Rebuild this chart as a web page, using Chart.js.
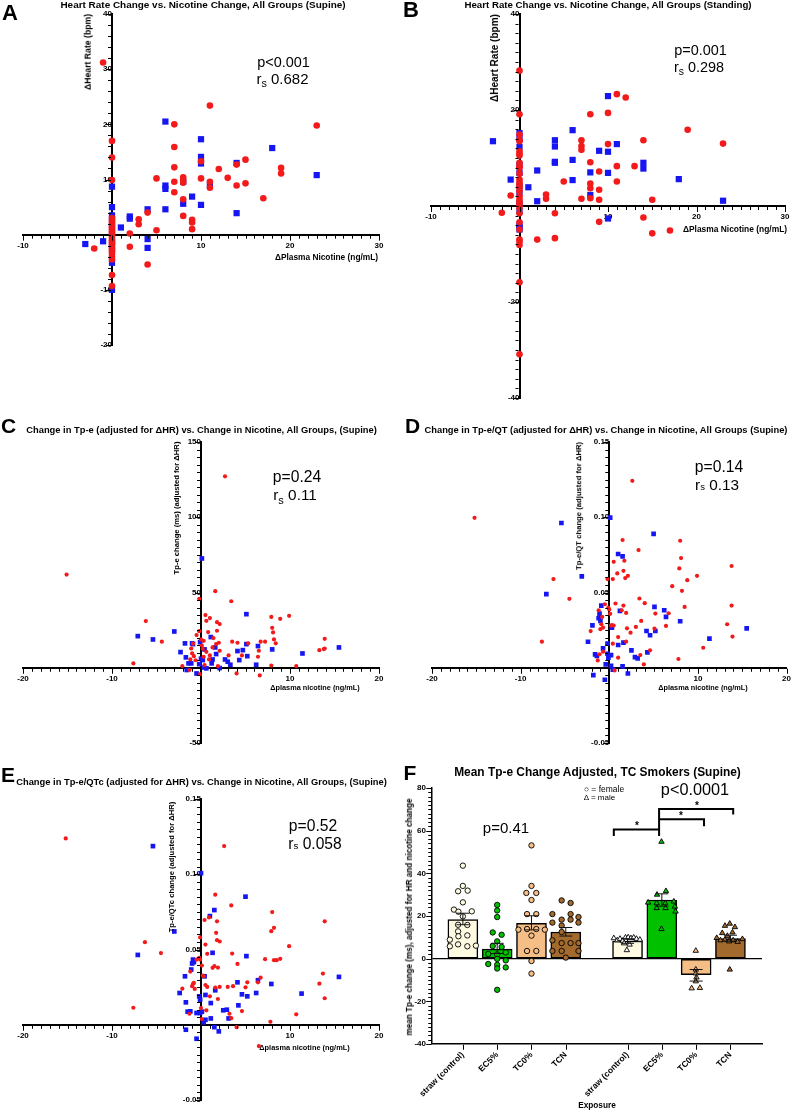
<!DOCTYPE html>
<html>
<head>
<meta charset="utf-8">
<title>Heart rate and Tp-e change vs. nicotine change</title>
<script src="https://cdn.jsdelivr.net/npm/chart.js@4.4.1/dist/chart.umd.min.js"></script>
<style>
  html, body { margin: 0; padding: 0; background: #fff; }
  #fig { position: relative; width: 792px; height: 1111px; overflow: hidden; font-family: "Liberation Sans", Arial, sans-serif; color: #000; }
  #fig canvas { position: absolute; }
  .txt { position: absolute; white-space: nowrap; line-height: 1; }
  .sb { font-size: 0.72em; position: relative; top: 0.32em; }
  .sm { font-size: 0.62em; }
</style>
</head>
<body>
<div id="fig">
  <canvas id="chartA" width="396" height="360" style="left:0;top:0"></canvas>
  <canvas id="chartB" width="396" height="410" style="left:396px;top:0"></canvas>
  <canvas id="chartC" width="396" height="360" style="left:0;top:400px"></canvas>
  <canvas id="chartD" width="396" height="350" style="left:396px;top:410px"></canvas>
  <canvas id="chartE" width="396" height="351" style="left:0;top:760px"></canvas>
  <canvas id="chartF" width="396" height="371" style="left:396px;top:740px"></canvas>
</div>
<script>
// A: heart rate change vs nicotine change, supine  [x = Δnicotine, y = ΔHR]
const hrSupineRed = [[-1,31.2],[0,17],[0,14],[0,9.9],[0,3.0],[0,2.6],[0,2.2],[0,1.8],[0,1.4],[0,1.0],[0,0.6],[0,0.2],[0,-0.2],[0,-0.6],[0,-1.0],[0,-1.4],[0,-1.8],[0,-2.2],[0,-2.6],[0,-3.0],[0,-3.5],[0,-4.0],[0,-4.5],[0,-7.3],[0,-9.3],
  [-2,-2.5],[2,0.2],[2,-2.2],[3,2.8],[3,1.9],[4,4.0],[4,-5.4],[5,10.2],[5,0.8],[7,20],[7,15.9],[7,12.2],[7,9.6],[7,7.7],[8,10.4],[8,9.9],[8,9.4],[8,6.4],[8,3.4],
  [9,2.7],[9,2.2],[9,1.0],[10,13.3],[10,10.2],[11,23.4],[11,9.6],[11,8.5],[12,11.9],[13,10.3],[14,12.7],[14,8.9],[15,13.6],[15,9.3],[17,6.6],[19,12.1],[19,11.1],[23,19.8]];
const hrSupineBlue = [[0,8.7],[0,5.0],[0,3.5],[0,2.8],[0,1.5],[0,0.3],[0,-1.5],[0,-2.7],[0,-5.1],[0,-10],[-3,-1.7],[-1,-1.2],[1,1.3],[2,3.3],[2,2.9],[4,4.6],[4,-0.8],[4,-2.4],
  [6,20.5],[6,8.9],[6,8.3],[6,4.6],[8,9.6],[8,5.6],[9,6.9],[10,17.3],[10,14.1],[10,12.9],[10,5.4],[11,9.0],[14,13.0],[14,3.9],[18,15.7],[23,10.8]];

// B: heart rate change vs nicotine change, standing
const hrStandRed = [[-2,-1.4],[-1,2.2],[0,28.2],[0,19.1],[0,14.9],[0,13.8],[0,13.5],[0,11.4],[0,10.9],[0,10.5],[0,9.0],[0,8.3],[0,7.9],[0,6.7],[0,5.5],[0,4.9],[0,4.4],[0,3.8],[0,3.1],[0,2.0],[0,1.3],[0,0.8],[0,0.3],[0,-0.4],[0,-1.5],[0,-3.4],[0,-4.9],[0,-7.0],[0,-7.4],[0,-8.1],[0,-15.9],[0,-30.9],
  [2,-7.0],[3,2.4],[3,1.5],[4,-1.5],[4,-6.7],[5,5.1],[7,13.7],[7,12.5],[7,11.7],[7,1.5],[8,19.1],[8,9.1],[8,4.7],[8,3.7],[8,1.6],[9,7.2],[9,3.4],[9,1.3],[9,-3.3],
  [10,19.4],[10,12.9],[11,23.3],[11,8.3],[11,5.1],[12,22.6],[13,8.3],[14,13.7],[14,-2.4],[15,1.3],[15,-5.7],[17,-5.1],[19,15.9],[23,13.0]];
const hrStandBlue = [[-3,13.5],[-1,5.5],[0,15.2],[0,14.0],[0,12.3],[0,8.6],[0,6.9],[0,4.1],[0,2.7],[0,0.5],[0,-1.1],[0,-3.9],[0,-4.4],[0,-4.9],
  [1,3.9],[2,7.4],[2,1.0],[4,13.7],[4,12.4],[4,9.2],[4,9.0],[6,15.8],[6,9.6],[6,5.4],[8,7.0],[8,2.3],[9,11.5],[10,22.9],[10,11.3],[10,6.9],[10,-2.6],[11,12.9],[14,9.0],[14,7.8],[18,5.6],[23,1.1]];

// C: Tp-e change (ms, adjusted for ΔHR)
const tpeRed = [[-15.1,61.9],[-7.6,2.9],[-6.2,31.0],[-4.4,17.3],[-2.1,1.1],[-1.3,-1.5],[-1.2,5.5],[-1.1,12.8],[-1.0,9.5],[-0.9,16],[-0.8,7.7],[-0.6,5],[-0.5,21.7],[-0.2,24.3],[-0.2,45.8],[-0.1,-4.2],
  [0,18.8],[0.1,14.8],[0.2,12.6],[0.3,17.9],[0.3,7.3],[0.4,1.8],[0.5,35],[0.6,31.2],[0.6,10.6],[0.8,23.7],[0.9,5.5],[1.0,33],[1.0,8.2],[1.3,13.5],[1.4,19.7],[1.6,50.9],[1.7,15.7],[1.8,24.6],[1.8,30.3],[1.9,1.1],
  [2.0,16.6],[2.1,29.0],[2.1,11.3],[2.7,127.2],[3.1,8.2],[3.4,44.2],[3.5,17.3],[4.0,-3.8],[4.1,16.6],[4.6,8.2],[5.3,16.2],[6.6,-5.1],[6.4,7.3],[6.5,11.3],[6.7,17.3],[7.2,17.3],
  [7.9,33.8],[8.0,26.5],[8.1,23.5],[8.2,18.8],[8.4,16.2],[7.9,1.5],[8.9,32.5],[9.9,34.5],[10.7,1.1],[13.3,11.7],[13.8,12.4],[13.9,12.8],[13.9,19.2]];
const tpeBlue = [[-7.1,21.0],[-5.4,18.8],[-3.0,24.1],[-2.3,10.4],[-1.8,16.2],[-1.7,6.9],[-1.6,-1.5],[-1.4,2.9],[-1.1,2.9],[-1.0,16.2],[-0.9,15.7],[-0.5,-3.8],[-0.2,2.4],[-0.1,17],[0.0,6],[0.1,72.6],
  [0.2,5.1],[0.3,0.2],[0.4,12.2],[0.6,-0.4],[1.1,20.4],[1.2,2.9],[1.3,5.5],[1.6,13.5],[1.7,9.1],[2.1,-0.2],[2.7,5.5],[3.0,4.0],[3.3,2.0],[4.1,11.1],[4.3,5.1],[4.7,11.7],
  [5.1,35.6],[5.1,15.7],[5.2,7.7],[6.2,2.0],[6.4,14.4],[8.0,12.2],[11.4,9.5],[15.5,13.5]];

// D: Tp-e/QT change
const tpeQtRed = [[-15.2,0.0996],[-7.6,0.0173],[-6.3,0.0589],[-4.5,0.0458],[-2.1,0.0244],[-1.3,0.0049],[-1.2,0.0382],[-1.1,0.0089],[-1.0,0.0256],[-0.9,0.0289],[-0.8,0.0338],[-0.7,0.0267],[-0.7,0.0107],[-0.5,0.0422],
  [-0.2,0.0589],[-0.1,0.04],[0.0,0.0387],[0.1,0.0358],[0.2,0.028],[0.3,0.0284],[0.4,0.016],[0.4,0.0589],[0.5,0.0704],[0.5,0.028],[0.6,-0.0018],[0.7,0.0427],[0.9,0.0627],[1.0,0.0204],[1.0,0.0067],
  [1.4,0.0382],[1.5,0.0849],[1.6,0.0413],[1.6,0.0644],[1.7,0.0711],[1.8,0.0596],[1.9,0.0173],[1.9,0.0364],[2.0,0.0262],[2.1,0.0611],[2.4,0.0233],[2.6,0.1242],[3.0,0.0271],[3.3,0.0782],[3.4,0.046],
  [3.5,0.0084],[3.6,0.0311],[3.9,0.0022],[4.0,0.0429],[4.6,0.0116],[5.1,0.026],[5.2,0.036],[6.7,0.0362],[6.4,0.0278],[7.1,0.0542],[7.8,0.0058],[7.9,0.066],[8.0,0.0844],[8.1,0.0729],[8.2,0.0511],
  [8.5,0.0404],[8.8,0.0582],[9.9,0.0611],[10.6,0.0133],[13.3,0.0289],[13.8,0.0413],[13.8,0.0676],[13.9,0.0207]];
const tpeQtBlue = [[-7.1,0.0489],[-5.4,0.0962],[-3.1,0.0607],[-2.4,0.0173],[-1.9,0.0282],[-1.8,-0.0049],[-1.6,0.0089],[-1.4,0.0078],[-1.2,0.0329],[-1.1,0.036],[-1.0,0.0311],[-0.9,0.0413],
  [-0.7,0.0129],[-0.5,-0.008],[-0.4,0.0022],[-0.2,0.016],[-0.2,0.0093],[-0.1,0.0067],[0.1,0.0998],[0.2,0.0013],[0.2,0.0084],[0.3,0.0267],[0.4,-0.0013],[1.0,0.0756],[1.0,0.0151],[1.2,0.0378],
  [1.5,0.074],[1.5,0.0009],[1.6,0.0167],[2.1,-0.0038],[2.5,0.0116],[2.9,0.0071],[3.2,0.0062],[4.2,0.0244],[4.3,0.0102],[4.6,0.0216],[5.0,0.0889],[5.1,0.0404],[5.2,0.0244],[6.2,0.0382],
  [6.4,0.0338],[8.0,0.0309],[11.3,0.0193],[15.5,0.0262]];

// E: Tp-e/QTc change
const tpeQtcRed = [[-15.2,0.1238],[-7.6,0.0113],[-6.3,0.0549],[-4.5,0.0476],[-2.1,0.024],[-1.3,0.0073],[-1.2,0.0353],[-1.0,0.0256],[-0.9,0.0271],[-0.8,0.0278],[-0.7,0.0238],[-0.5,0.0433],
  [-0.2,0.0444],[-0.1,0.058],[-0.1,0.0433],[0.0,0.0111],[0.1,0.0038],[0.1,0.0393],[0.2,0.0327],[0.3,0.0322],[0.4,0.0696],[0.5,0.0264],[0.5,0.0533],[0.6,0.0096],[0.7,0.0471],[0.7,0.0251],
  [0.9,0.0713],[1.0,0.0189],[1.3,0.0378],[1.5,0.0389],[1.6,0.0864],[1.6,0.0247],[1.7,0.0611],[1.8,0.0687],[1.8,0.0562],[1.9,0.0171],[1.9,0.038],[2.1,0.0251],[2.1,0.0553],[2.6,0.1187],
  [3.0,0.0251],[3.2,0.0073],[3.4,0.0793],[3.4,0.0044],[3.5,0.0473],[3.6,0.0256],[4.0,-0.0016],[4.1,0.0404],[4.6,0.0091],[5.0,0.0249],[5.2,0.0282],[6.5,-0.0142],[6.4,0.0282],[6.7,0.0313],
  [7.2,0.0436],[7.8,0.002],[7.9,0.0622],[8.0,0.0749],[8.2,0.0644],[8.2,0.0429],[8.5,0.0429],[8.9,0.0438],[9.9,0.0522],[10.7,0.0069],[13.3,0.0273],[13.7,0.034],[13.9,0.0176],[13.9,0.0687]];
const tpeQtcBlue = [[-7.1,0.0464],[-5.4,0.1187],[-3.0,0.062],[-2.4,0.0211],[-1.8,0.0322],[-1.7,0.0149],[-1.7,-0.0033],[-1.5,0.0087],[-1.2,0.0089],[-1.1,0.0367],[-1.0,0.0407],[-0.9,0.0433],
  [-0.8,0.0416],[-0.5,0.0078],[-0.5,-0.0093],[-0.2,0.0189],[-0.1,0.0167],[-0.1,0.0078],[0.0,0.1007],[0.1,0.0087],[0.3,0.0016],[0.4,0.0322],[0.5,0.0198],[0.5,0.0033],[1.0,0.0722],
  [1.1,0.0144],[1.1,0.0042],[1.3,0.0478],[1.5,0.0762],[1.5,-0.0016],[1.6,0.0229],[2.0,-0.0044],[2.5,0.0096],[2.9,0.0100],[3.1,0.0042],[4.1,0.0282],[4.2,0.0129],[4.6,0.0202],
  [5.0,0.0851],[5.1,0.0456],[5.2,0.0189],[6.2,0.0211],[6.4,0.0296],[7.9,0.0271],[11.3,0.0207],[15.5,0.0318]];

// F: mean Tp-e change by exposure (female left group, male right group)
const exposureNames = ['straw (control)', 'EC5%', 'TC0%', 'TCN', 'straw (control)', 'EC5%', 'TC0%', 'TCN'];
const exposurePos = [1, 2, 3, 4, 5.8, 6.8, 7.8, 8.8];
const meanTpe = [18.3, 4.5, 16.6, 12.5, 8.3, 27.5, -7.5, 9.4];
const semLow = [15.9, 2.4, 13.5, 10.6, 7.2, 24.6, -10.5, 8.2];
const semHigh = [21.3, 7.2, 20.1, 14.6, 9.3, 30.4, -5.1, 11.0];
const femaleStraw = [[1.00,43.6],[1.00,34.1],[0.86,31.6],[1.14,31.9],[1.00,26.4],[0.74,23.0],[0.87,22.0],[1.26,22.2],[1.00,19.8],[0.86,15.9],[1.13,15.8],[0.86,12.8],[0.62,8.9],[0.87,10.5],[1.13,10.9],[0.86,6.7],[0.62,5.8],[1.13,5.8],[1.38,6.1]];
const femaleEC5 = [[2.00,25.2],[2.00,22.6],[2.00,19.5],[1.87,12.3],[2.13,11.2],[2.00,8.1],[1.87,5.9],[2.13,5.5],[1.74,2.2],[2.00,2.0],[2.25,2.9],[2.00,-0.1],[2.25,-0.8],[1.74,-2.5],[2.00,-2.9],[2.25,-4.1],[2.00,-4.6],[2.00,-14.6]];
const femaleTC0 = [[3.00,53.1],[3.00,34.1],[2.85,30.8],[3.14,30.8],[3.00,27.5],[2.87,20.9],[3.14,20.9],[2.62,13.6],[2.87,13.9],[3.14,13.9],[3.39,13.6],[3.00,10.8],[2.87,3.6],[3.14,3.6],[3.00,-1.1],[3.00,-7.0]];
const femaleTCN = [[3.88,27.3],[4.14,26.1],[3.61,20.9],[4.14,20.9],[4.37,19.5],[3.88,18.3],[4.14,18.3],[3.61,16.9],[4.37,16.9],[3.88,15.5],[3.88,12.5],[3.61,8.6],[3.88,7.3],[4.14,7.3],[4.37,7.3],[3.61,3.6],[3.88,3.6],[4.37,3.6],[4.00,0.5]];
const maleStraw = [[5.40,9.6],[5.50,8.6],[5.58,9.3],[5.66,8.4],[5.74,9.9],[5.82,10.0],[5.90,9.6],[5.98,9.9],[6.06,9.3],[6.16,8.9],[5.70,7.2],[5.86,6.6],[5.78,4.0]];
const maleEC5 = [[6.79,54.8],[6.66,30.0],[6.92,31.7],[6.40,26.3],[6.65,26.0],[6.90,26.0],[7.15,26.8],[7.18,24.4],[7.20,22.1],[6.65,23.7],[6.91,23.7],[6.79,13.9]];
const maleTC0 = [[7.79,3.7],[7.79,-5.1],[7.79,-6.9],[7.81,-8.8],[7.79,-10.6],[7.67,-13.9],[7.91,-13.7]];
const maleTCN = [[8.64,15.4],[8.78,16.4],[8.93,14.8],[8.56,12.0],[8.86,12.3],[8.71,10.7],[8.40,9.7],[8.51,8.6],[8.64,8.9],[8.76,8.1],[8.88,8.6],[9.01,7.9],[9.15,9.2],[8.78,-5.1]];
// significance brackets (x from, x to, bar height, left/right leg ends)
const bracketFrom = [5.40, 6.72, 6.72];
const bracketTo = [6.72, 8.03, 8.88];
const bracketTop = [60.6, 65.4, 70.2];
const bracketLegL = [57.5, 60.6, 65.4];
const bracketLegR = [57.5, 62.1, 67.6];

const RED = '#f21a1a';
const BLUE = '#1616f2';
const CREAM = '#fffbe3';
const GREEN = '#00c000';
const PEACH = '#f5be86';
const BROWN = '#a26a2c';
const FAM = 'Liberation Sans';
const TICK_FONT = { family: FAM, size: 8, weight: 'bold' };
const MAJOR_LEN = 5, MINOR_LEN = 3;

Chart.defaults.font.family = FAM;
Chart.defaults.color = '#000';

function onStep(v, step) {
    return Math.abs(v / step - Math.round(v / step)) < 1e-6;
}

function pts(list) {
    return list.map(([x, y]) => ({ x, y }));
}

// draws major/minor tick marks along each axis line, from the scale's own ticks
const tickMarks = {
    id: 'tickMarks',
    afterDraw(chart, args, opts) {
        const ctx = chart.ctx;
        ctx.save();
        ctx.strokeStyle = '#000';
        ctx.lineWidth = 1;
        Object.values(chart.scales).forEach(sc => {
            const spec = opts[sc.id];
            if (!spec) return;
            const horiz = sc.isHorizontal();
            const other = chart.scales[horiz ? 'y' : 'x'];
            let base;
            if (spec.at === 'edge') base = horiz ? chart.chartArea.bottom : chart.chartArea.left;
            else base = other.getPixelForValue(spec.at);
            const half = spec.half;
            sc.ticks.forEach(t => {
                const len = onStep(t.value, spec.major) ? MAJOR_LEN : MINOR_LEN;
                const p = Math.round(sc.getPixelForValue(t.value)) + 0.5;
                ctx.beginPath();
                if (horiz) {
                    ctx.moveTo(p, base + half);
                    ctx.lineTo(p, base + half + len);
                } else {
                    ctx.moveTo(base - half, p);
                    ctx.lineTo(base - half - len, p);
                }
                ctx.stroke();
            });
        });
        ctx.restore();
    }
};

// axis that crosses the other one at zero (GraphPad style)
function crossAxis(pos, lim, minor, major, fmt) {
    return {
        type: 'linear', position: pos, min: lim[0], max: lim[1],
        ticks: {
            stepSize: minor, autoSkip: false, maxRotation: 0, padding: 1,
            font: TICK_FONT, color: '#000',
            callback: v => (onStep(v, major) && Math.abs(v) > 1e-9) ? fmt(v) : ''
        },
        grid: { drawOnChartArea: false, tickLength: MAJOR_LEN, tickColor: 'rgba(0,0,0,0)', color: 'rgba(0,0,0,0)' },
        border: { color: '#000', width: 2 }
    };
}

function scatterPanel(id, red, blue, o) {
    return new Chart(document.getElementById(id), {
        type: 'scatter',
        data: {
            datasets: [
                { data: pts(red), pointStyle: 'circle', pointRadius: o.r[0], backgroundColor: RED, borderWidth: 0 },
                { data: pts(blue), pointStyle: 'rect', pointRadius: o.r[1], backgroundColor: BLUE, borderWidth: 0 }
            ]
        },
        plugins: [tickMarks],
        options: {
            responsive: false, animation: false, events: [],
            layout: { padding: o.pad },
            plugins: {
                legend: { display: false }, tooltip: { enabled: false },
                tickMarks: { x: { at: 0, major: o.xs[1], half: 1 }, y: { at: 0, major: o.ys[1], half: 1 } }
            },
            scales: {
                x: crossAxis({ y: 0 }, o.x, o.xs[0], o.xs[1], String),
                y: crossAxis({ x: 0 }, o.y, o.ys[0], o.ys[1], o.fmt || String)
            }
        }
    });
}

const fix2 = v => v.toFixed(2);

scatterPanel('chartA', hrSupineRed, hrSupineBlue, {
    x: [-10, 30], xs: [1, 10], y: [-20, 40], ys: [2, 10], r: [3.3, 4.4],
    pad: { left: 23, right: 17, top: 14, bottom: 15 }
});
scatterPanel('chartB', hrStandRed, hrStandBlue, {
    x: [-10, 30], xs: [1, 10], y: [-40, 40], ys: [2, 20], r: [3.3, 4.4],
    pad: { left: 35, right: 7, top: 14, bottom: 12 }
});
scatterPanel('chartC', tpeRed, tpeBlue, {
    x: [-20, 20], xs: [1, 10], y: [-50, 150], ys: [5, 50], r: [2.1, 3.3],
    pad: { left: 23, right: 17, top: 42, bottom: 17 }
});
scatterPanel('chartD', tpeQtRed, tpeQtBlue, {
    x: [-20, 20], xs: [1, 10], y: [-0.05, 0.15], ys: [0.005, 0.05], r: [2.1, 3.3], fmt: fix2,
    pad: { left: 36, right: 4, top: 32, bottom: 17 }
});
scatterPanel('chartE', tpeQtcRed, tpeQtcBlue, {
    x: [-20, 20], xs: [1, 10], y: [-0.05, 0.15], ys: [0.005, 0.05], r: [2.1, 3.3], fmt: fix2,
    pad: { left: 23, right: 17, top: 39, bottom: 11 }
});

// panel F: bars + individual points + SEM + brackets
const errSegments = [];
exposurePos.forEach((x, i) => {
    const w = 0.19;
    errSegments.push({ x, y: semLow[i] }, { x, y: semHigh[i] }, { x, y: null },
        { x: x - w, y: semHigh[i] }, { x: x + w, y: semHigh[i] }, { x, y: null },
        { x: x - w, y: semLow[i] }, { x: x + w, y: semLow[i] }, { x, y: null });
});
const bracketLines = [];
bracketFrom.forEach((x0, i) => {
    const x1 = bracketTo[i];
    bracketLines.push({ x: x0, y: bracketLegL[i] }, { x: x0, y: bracketTop[i] },
        { x: x1, y: bracketTop[i] }, { x: x1, y: bracketLegR[i] }, { x: x1, y: null });
});

function dots(list, style, fill, r) {
    return {
        type: 'scatter', data: pts(list), pointStyle: style, pointRadius: r,
        backgroundColor: fill, borderColor: '#000', borderWidth: 0.9, order: 1
    };
}

new Chart(document.getElementById('chartF'), {
    type: 'bar',
    data: {
        datasets: [
            { type: 'line', data: errSegments, borderColor: '#111', borderWidth: 1, pointRadius: 0, spanGaps: false, fill: false, order: 0 },
            { type: 'line', data: bracketLines, borderColor: '#000', borderWidth: 2, pointRadius: 0, spanGaps: false, fill: false, order: 0 },
            dots(femaleStraw, 'circle', CREAM, 2.7),
            dots(femaleEC5, 'circle', GREEN, 2.7),
            dots(femaleTC0, 'circle', PEACH, 2.7),
            dots(femaleTCN, 'circle', BROWN, 2.7),
            dots(maleStraw, 'triangle', '#ffffff', 3.1),
            dots(maleEC5, 'triangle', GREEN, 3.1),
            dots(maleTC0, 'triangle', PEACH, 3.1),
            dots(maleTCN, 'triangle', BROWN, 3.1),
            {
                type: 'bar', data: exposurePos.map((x, i) => ({ x, y: meanTpe[i] })),
                backgroundColor: [CREAM, GREEN, PEACH, BROWN, CREAM, GREEN, PEACH, BROWN],
                borderColor: '#000', borderWidth: 1.5, borderSkipped: false, barThickness: 30, order: 2
            }
        ]
    },
    plugins: [tickMarks],
    options: {
        responsive: false, animation: false, events: [],
        layout: { padding: { left: 6, right: 30, top: 48, bottom: 7 } },
        plugins: {
            legend: { display: false }, tooltip: { enabled: false },
            tickMarks: { x: { at: 'edge', major: 0.1, half: 0.75 }, y: { at: 'edge', major: 20, half: 0.75 } }
        },
        scales: {
            x: {
                type: 'linear', min: 0.1, max: 9.72, offset: false,
                afterBuildTicks: s => { s.ticks = exposurePos.map(v => ({ value: v })); },
                afterFit: s => { s.height = 60; },
                ticks: {
                    autoSkip: false, minRotation: 45, maxRotation: 45, padding: 1,
                    font: { family: FAM, size: 8.5, weight: 'bold' }, color: '#000',
                    callback: (v, i) => exposureNames[i]
                },
                grid: { drawOnChartArea: false, tickLength: MAJOR_LEN, tickColor: 'rgba(0,0,0,0)', color: 'rgba(0,0,0,0)', offset: false },
                border: { color: '#000', width: 1.5 }
            },
            y: {
                type: 'linear', position: 'left', min: -40, max: 80,
                afterFit: s => { s.width = 30; },
                ticks: {
                    stepSize: 2, autoSkip: false, padding: 1, font: TICK_FONT, color: '#000',
                    callback: v => onStep(v, 20) ? String(v) : ''
                },
                grid: {
                    color: c => (c.tick && c.tick.value === 0) ? '#000' : 'rgba(0,0,0,0)',
                    tickColor: 'rgba(0,0,0,0)', tickLength: MAJOR_LEN, lineWidth: 1.2
                },
                border: { color: '#000', width: 1.5 }
            }
        }
    }
});

// text: panel letters, titles, axis titles, statistics
const texts = [
    { t: 'A', x: 10, y: 13, s: 22, b: 1 },
    { t: 'Heart Rate Change vs. Nicotine Change, All Groups (Supine)', x: 203, y: 5, s: 9, b: 1, w: 285 },
    { t: 'ΔHeart Rate (bpm)', x: 88, y: 52, s: 8, b: 1, w: 76, r: -90 },
    { t: 'ΔPlasma Nicotine (ng/mL)', x: 326.5, y: 257, s: 8.5, b: 1, w: 103 },
    { t: 'p&lt;0.001', x: 283.5, y: 62, s: 15, w: 53 },
    { t: 'r<span class="sb">s</span> 0.682', x: 282.5, y: 78, s: 15, w: 52 },

    { t: 'B', x: 411, y: 10, s: 22, b: 1 },
    { t: 'Heart Rate Change vs. Nicotine Change, All Groups (Standing)', x: 608, y: 5, s: 9, b: 1, w: 288 },
    { t: 'ΔHeart Rate (bpm)', x: 495, y: 58, s: 9, b: 1, w: 88, r: -90 },
    { t: 'ΔPlasma Nicotine (ng/mL)', x: 735, y: 229, s: 8.5, b: 1, w: 104 },
    { t: 'p=0.001', x: 700.5, y: 50, s: 15, w: 53 },
    { t: 'r<span class="sb">s</span> 0.298', x: 699, y: 67, s: 15, w: 50 },

    { t: 'C', x: 8.5, y: 424.5, s: 21, b: 1 },
    { t: 'Change in Tp-e (adjusted for ΔHR) vs. Change in Nicotine, All Groups, (Supine)', x: 201.5, y: 431, s: 8.5, b: 1, w: 351 },
    { t: 'Tp-e change (ms) (adjusted for ΔHR)', x: 177, y: 508, s: 8, b: 1, w: 133, r: -90 },
    { t: 'Δplasma nicotine (ng/mL)', x: 315, y: 688, s: 8, b: 1, w: 90 },
    { t: 'p=0.24', x: 297, y: 477, s: 15, w: 48 },
    { t: 'r<span class="sb">s</span> 0.11', x: 295, y: 495, s: 15, w: 44 },

    { t: 'D', x: 412.5, y: 424.5, s: 21, b: 1 },
    { t: 'Change in Tp-e/QT (adjusted for ΔHR) vs. Change in Nicotine, All Groups (Supine)', x: 606, y: 431, s: 8.5, b: 1, w: 364 },
    { t: 'Tp-e/QT change (adjusted for ΔHR)', x: 579, y: 506, s: 8, b: 1, w: 128, r: -90 },
    { t: 'Δplasma nicotine (ng/mL)', x: 703, y: 688, s: 8, b: 1, w: 90 },
    { t: 'p=0.14', x: 719, y: 467, s: 15, w: 48 },
    { t: 'r<span class="sm">s</span> 0.13', x: 717, y: 485, s: 15, w: 44 },

    { t: 'E', x: 8, y: 774, s: 21, b: 1 },
    { t: 'Change in Tp-e/QTc (adjusted for ΔHR) vs. Change in Nicotine, All Groups, (Supine)', x: 201.5, y: 783, s: 8.5, b: 1, w: 371 },
    { t: 'Tp-e/QTc change (adjusted for ΔHR)', x: 172, y: 867, s: 8, b: 1, w: 131, r: -90 },
    { t: 'Δplasma nicotine (ng/mL)', x: 304.5, y: 1048, s: 8, b: 1, w: 91 },
    { t: 'p=0.52', x: 313, y: 826, s: 15, w: 48 },
    { t: 'r<span class="sm">s</span> 0.058', x: 315, y: 844, s: 15, w: 53 },

    { t: 'F', x: 410, y: 772, s: 21, b: 1 },
    { t: 'Mean Tp-e Change Adjusted, TC Smokers (Supine)', x: 597.5, y: 773, s: 11.5, b: 1, w: 287 },
    { t: 'mean Tp-e change (ms), adjusted for HR and nicotine change', x: 410, y: 917, s: 8.5, b: 1, w: 237, r: -90 },
    { t: 'Exposure', x: 597, y: 1106, s: 8.5, b: 1, w: 38 },
    { t: '○ = female', x: 604, y: 789, s: 7, w: 40 },
    { t: 'Δ = male', x: 599.5, y: 798, s: 7, w: 31 },
    { t: 'p=0.41', x: 506, y: 827, s: 15, w: 46 },
    { t: 'p&lt;0.0001', x: 695, y: 789, s: 17, w: 68 },
    { t: '*', x: 637, y: 826, s: 10, b: 1 },
    { t: '*', x: 681, y: 816, s: 10, b: 1 },
    { t: '*', x: 697, y: 806, s: 10, b: 1 }
];

const fig = document.getElementById('fig');
texts.forEach(o => {
    const d = document.createElement('div');
    d.className = 'txt';
    d.innerHTML = o.t;
    d.style.fontSize = o.s + 'px';
    d.style.fontWeight = o.b ? 'bold' : 'normal';
    fig.appendChild(d);
    // scale the font so the text spans the measured width
    if (o.w) {
        const w = d.offsetWidth;
        if (w > 0) d.style.fontSize = (o.s * o.w / w) + 'px';
    }
    d.style.left = o.x + 'px';
    d.style.top = o.y + 'px';
    d.style.transform = 'translate(-50%,-50%)' + (o.r ? ' rotate(' + o.r + 'deg)' : '');
});
</script>
</body>
</html>
